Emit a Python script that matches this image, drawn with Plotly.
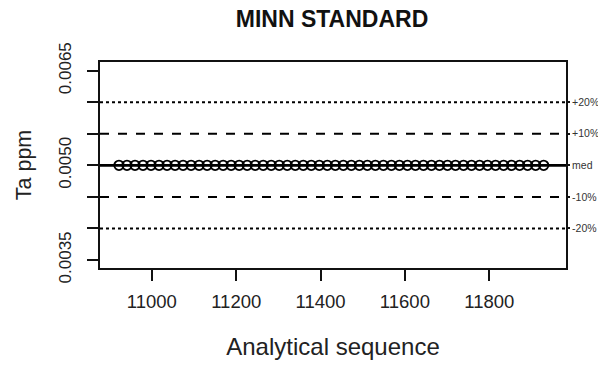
import plotly.graph_objects as go

# Data
seq = [10922, 10941, 10960, 10979, 10998, 11017, 11036, 11055, 11074, 11093,
       11112, 11131, 11150, 11169, 11188, 11207, 11226, 11245, 11264, 11283,
       11302, 11321, 11340, 11359, 11378, 11397, 11416, 11435, 11454, 11473,
       11492, 11511, 11530, 11549, 11568, 11587, 11606, 11625, 11644, 11663,
       11682, 11701, 11720, 11739, 11758, 11777, 11796, 11815, 11834, 11853,
       11872, 11891, 11910, 11929]
ta_ppm = [0.0050] * len(seq)
median_val = 0.0050
pct_levels = [0.20, 0.10, 0.0, -0.10, -0.20]
pct_labels = ["+20%", "+10%", "med", "-10%", "-20%"]
pct_dash = ["dot", "dash", "solid", "dash", "dot"]
y_ticks = [0.0035, 0.0040, 0.0045, 0.0050, 0.0055, 0.0060, 0.0065]
y_ticktext = ["0.0035", "", "", "0.0050", "", "", "0.0065"]
x_ticks = [11000, 11200, 11400, 11600, 11800]
x_ticktext = ["11000", "11200", "11400", "11600", "11800"]

FONT = "Liberation Sans, Arial, sans-serif"
levels = [median_val * (1 + p) for p in pct_levels]
yr = [0.003373, 0.006638]

fig = go.Figure()

for lv, d in zip(levels, pct_dash):
    fig.add_shape(type="line", xref="x domain", yref="y", x0=0, x1=1, y0=lv, y1=lv,
                  line=dict(color="black", width=2.6 if d == "solid" else 2, dash=d),
                  layer="below")

fig.add_trace(go.Scatter(
    x=seq, y=ta_ppm, mode="markers",
    marker=dict(symbol="circle-open", size=9.5, color="black", line=dict(width=1.8, color="black")),
    showlegend=False, hoverinfo="skip"))

# invisible trace for right-hand axis
fig.add_trace(go.Scatter(x=[seq[0]], y=[median_val], yaxis="y2", mode="markers",
                         marker=dict(opacity=0), showlegend=False, hoverinfo="skip"))

fig.update_layout(
    width=598, height=365,
    margin=dict(l=100, r=32, t=62, b=97, autoexpand=False),
    paper_bgcolor="white", plot_bgcolor="white",
    font=dict(family=FONT, color="#111111"),
    title=dict(text="<b>MINN STANDARD</b>", x=332 / 598, xanchor="center",
               y=1 - 19 / 365, yanchor="middle", xref="container", yref="container",
               font=dict(size=23, family=FONT, color="#111111")),
    xaxis=dict(range=[10877, 11982], tickvals=x_ticks, ticktext=x_ticktext, ticks="outside",
               ticklen=11, tickwidth=2, automargin=False, ticklabelstandoff=5,
               tickcolor="#111111", showgrid=False, zeroline=False,
               showline=True, linecolor="#111111", linewidth=2, mirror=True,
               tickfont=dict(size=18.5, family=FONT, color="#222222"),
               title=dict(text="Analytical sequence", font=dict(size=24, family=FONT, color="#222222"),
                          standoff=27)),
    yaxis=dict(range=yr, tickvals=y_ticks, ticktext=y_ticktext, ticks="outside", ticklen=11,
               tickwidth=2, tickcolor="#111111", tickangle=-90, showgrid=False, zeroline=False,
               showline=True, linecolor="#111111", linewidth=2, mirror=True, automargin=False,
               ticklabelstandoff=9,
               tickfont=dict(size=17, family=FONT, color="#222222"),
               title=dict(text="Ta ppm", font=dict(size=21.5, family=FONT, color="#222222"),
                          standoff=19)),
    yaxis2=dict(range=yr, overlaying="y", side="right", tickvals=levels, ticktext=pct_labels,
                ticks="outside", ticklen=3, tickwidth=1.5, tickcolor="#111111", automargin=False,
                showgrid=False, zeroline=False, showline=False, ticklabelstandoff=0,
                tickfont=dict(size=10.5, family=FONT, color="#333333")),
)

fig.write_html("out.html", post_script="document.body.style.margin='0';",
               config={"displayModeBar": False})
